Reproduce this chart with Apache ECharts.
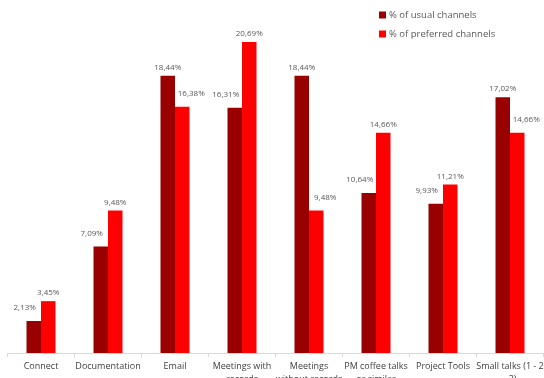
<!DOCTYPE html>
<html><head><meta charset="utf-8">
<script src="https://cdn.jsdelivr.net/npm/echarts@6/dist/echarts.min.js"></script>
<style>html,body{margin:0;padding:0;background:#fff}#c{width:544px;height:378px}</style>
</head><body><div id="c"></div>
<script>
const categories = ["Connect","Documentation","Email","Meetings with\nrecords","Meetings\nwithout records","PM coffee talks\nor similar","Project Tools","Small talks (1 - 2\n- 3)"];
const usual = [2.13, 7.09, 18.44, 16.31, 18.44, 10.64, 9.93, 17.02];
const preferred = [3.45, 9.48, 16.38, 20.69, 9.48, 14.66, 11.21, 14.66];
const seriesNames = ["% of usual channels","% of preferred channels"];
const fmtVal = v => v.toFixed(2).replace('.', ',') + '%';
const chart = echarts.init(document.getElementById('c'));
const baseLbl = {show:true, position:'top', color:'#595959', fontSize:8, fontFamily:'Open Sans', distance:4};
// shorter bar of each pair gets its label nudged outward (as in the reference)
function mkData(vals, others, dir){
  return vals.map((v,i) => {
    const d = {value:v, label:{formatter:fmtVal(v)}};
    if (v < others[i]) d.label.offset = [dir*9, -5];
    return d;
  });
}
chart.setOption({
  animation:false,
  legend:{orient:'vertical', left:374, top:5, itemWidth:7, itemHeight:7, itemGap:9, icon:'rect',
    textStyle:{color:'#595959', fontSize:9.5, fontFamily:'Open Sans', padding:[0,0,0,-2]}, data:seriesNames},
  grid:{left:7.5, right:0.5, top:22.3, bottom:25, containLabel:false, outerBoundsMode:'none'},
  xAxis:{type:'category', data:categories,
    axisLine:{lineStyle:{color:'#d9d9d9'}},
    axisTick:{show:true, length:4, lineStyle:{color:'#d9d9d9'}},
    axisLabel:{color:'#404040', fontSize:9, fontFamily:'Open Sans', margin:7, interval:0, lineHeight:13}},
  yAxis:{type:'value', min:0, max:22, show:false, splitLine:{show:false}},
  series:[
    {name:seriesNames[0], type:'bar', data:mkData(usual, preferred, -1), barWidth:14.5, barGap:'0%', itemStyle:{color:'#990000'}, label:baseLbl},
    {name:seriesNames[1], type:'bar', data:mkData(preferred, usual, 1), barWidth:14.5, itemStyle:{color:'#ff0000'}, label:baseLbl}
  ]
});
</script></body></html>
